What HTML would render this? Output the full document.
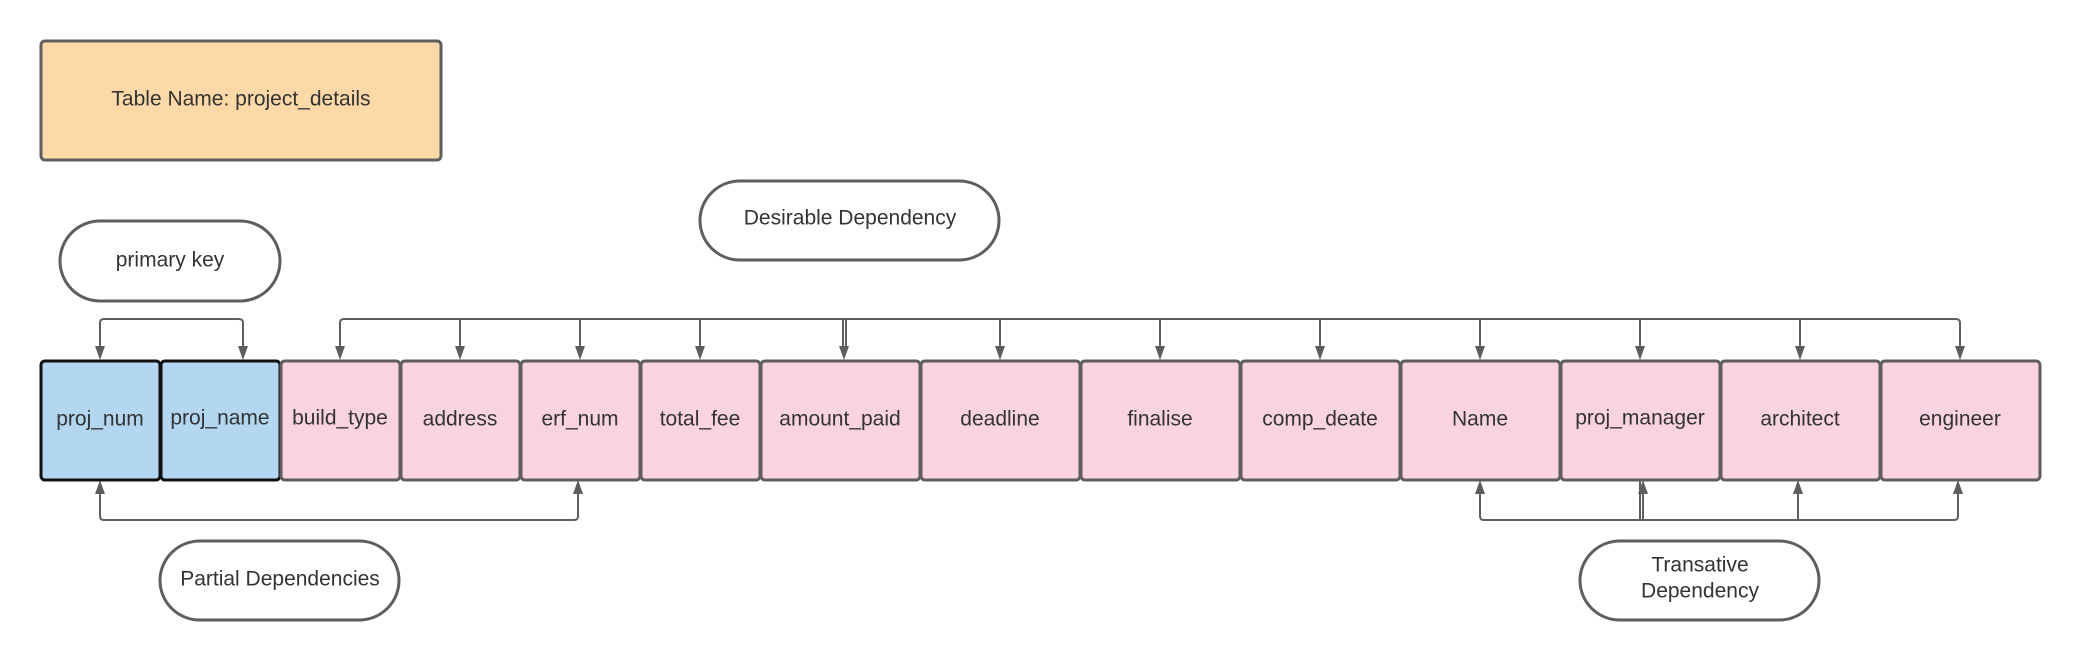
<!DOCTYPE html>
<html><head><meta charset="utf-8"><style>
body{margin:0;background:#fff;}
svg{display:block;}
text{font-family:"Liberation Sans",Arial,sans-serif;font-size:21px;fill:#333;text-anchor:middle;dominant-baseline:middle;}
</style></head><body>
<svg width="2080" height="660" viewBox="0 0 2080 660" xmlns="http://www.w3.org/2000/svg">
<defs>
<marker id="a" markerWidth="10" markerHeight="14" refX="5" refY="14" orient="auto" markerUnits="userSpaceOnUse" viewBox="0 0 10 14">
<path d="M0,0 L10,0 L5,14 Z" fill="#5e5e5e" transform="rotate(0)"/>
</marker>
</defs>
<rect x="41" y="41" width="400" height="119" rx="4" fill="#fdd9a8" stroke="#5e5e5e" stroke-width="3"/>
<text x="241" y="100">Table Name: project_details</text>

<rect x="60" y="221" width="220" height="80" rx="40" fill="#fff" stroke="#5e5e5e" stroke-width="3"/>
<text x="170" y="261">primary key</text>
<rect x="700" y="181" width="299" height="79" rx="40" fill="#fff" stroke="#5e5e5e" stroke-width="3"/>
<text x="850" y="219">Desirable Dependency</text>
<rect x="160" y="541" width="239" height="79" rx="40" fill="#fff" stroke="#5e5e5e" stroke-width="3"/>
<text x="280" y="580">Partial Dependencies</text>
<rect x="1580" y="541" width="239" height="79" rx="40" fill="#fff" stroke="#5e5e5e" stroke-width="3"/>
<text x="1700" y="566">Transative</text>
<text x="1700" y="592">Dependency</text>

<g stroke="#5e5e5e" stroke-width="2" fill="none">
<path d="M100,346 V323 Q100,319 104,319 H239 Q243,319 243,323 V346"/>
<path d="M340,346 V323 Q340,319 344,319 H1956 Q1960,319 1960,323 V346"/>
<path d="M460,319 V346 M580,319 V346 M700,319 V346 M843,319 V346 M846,319 V346 M1000,319 V346 M1160,319 V346 M1320,319 V346 M1480,319 V346 M1640,319 V346 M1800,319 V346"/>
<path d="M100,494 V516 Q100,520 104,520 H574 Q578,520 578,516 V494"/>
<path d="M1480,494 V516 Q1480,520 1484,520 H1954 Q1958,520 1958,516 V494"/>
<path d="M1643,494 V520 M1640,480 V520 M1798,494 V520"/>
</g>
<g fill="#5e5e5e">
<path d="M95,346 H105 L100,360 Z"/><path d="M238,346 H248 L243,360 Z"/>
<path d="M335,346 H345 L340,360 Z"/><path d="M455,346 H465 L460,360 Z"/><path d="M575,346 H585 L580,360 Z"/><path d="M695,346 H705 L700,360 Z"/><path d="M839,346 H849 L844,360 Z"/><path d="M995,346 H1005 L1000,360 Z"/><path d="M1155,346 H1165 L1160,360 Z"/><path d="M1315,346 H1325 L1320,360 Z"/><path d="M1475,346 H1485 L1480,360 Z"/><path d="M1635,346 H1645 L1640,360 Z"/><path d="M1795,346 H1805 L1800,360 Z"/><path d="M1955,346 H1965 L1960,360 Z"/>
<path d="M95,494 H105 L100,480 Z"/><path d="M573,494 H583 L578,480 Z"/>
<path d="M1475,494 H1485 L1480,480 Z"/><path d="M1638,494 H1648 L1643,480 Z"/><path d="M1793,494 H1803 L1798,480 Z"/><path d="M1953,494 H1963 L1958,480 Z"/>
</g>

<g stroke-width="3">
<rect x="41" y="361" width="119" height="119" rx="4" fill="#b3d7f0" stroke="#111"/>
<rect x="161" y="361" width="119" height="119" rx="4" fill="#b3d7f0" stroke="#111"/>
<g fill="#f9d3df" stroke="#5e5e5e">
<rect x="281" y="361" width="119" height="119" rx="4"/>
<rect x="401" y="361" width="119" height="119" rx="4"/>
<rect x="521" y="361" width="119" height="119" rx="4"/>
<rect x="641" y="361" width="119" height="119" rx="4"/>
<rect x="761" y="361" width="159" height="119" rx="4"/>
<rect x="921" y="361" width="159" height="119" rx="4"/>
<rect x="1081" y="361" width="159" height="119" rx="4"/>
<rect x="1241" y="361" width="159" height="119" rx="4"/>
<rect x="1401" y="361" width="159" height="119" rx="4"/>
<rect x="1561" y="361" width="159" height="119" rx="4"/>
<rect x="1721" y="361" width="159" height="119" rx="4"/>
<rect x="1881" y="361" width="159" height="119" rx="4"/>
</g></g>
<text x="100" y="420">proj_num</text>
<text x="220" y="419">proj_name</text>
<text x="340" y="419">build_type</text>
<text x="460" y="420">address</text>
<text x="580" y="420">erf_num</text>
<text x="700" y="420">total_fee</text>
<text x="840" y="420">amount_paid</text>
<text x="1000" y="420">deadline</text>
<text x="1160" y="420">finalise</text>
<text x="1320" y="420">comp_deate</text>
<text x="1480" y="420">Name</text>
<text x="1640" y="419">proj_manager</text>
<text x="1800" y="420">architect</text>
<text x="1960" y="420">engineer</text>
</svg>
</body></html>
